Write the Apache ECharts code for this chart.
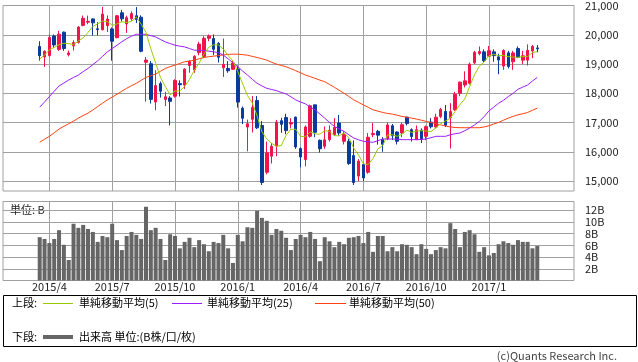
<!DOCTYPE html>
<html><head><meta charset="utf-8">
<script src="https://cdn.jsdelivr.net/npm/echarts@6/dist/echarts.min.js"></script>
<style>html,body{margin:0;padding:0;background:#fff}#c{width:638px;height:362px}</style>
</head><body><div id="c"></div>
<script>
// Weekly candles, first week starting 2015-03-23
const firstWeek = [2015, 2, 23];
const opens  = [19600,19240,19290,19960,19500,20090,19320,19620,19740,20320,20430,20540,20205,20170,20310,20200,19900,20750,20370,20545,20650,20600,19060,19010,17700,18330,17784,17840,17900,18330,18280,18950,18800,19390,19250,19880,19870,19700,18870,18850,18820,18818,17490,16846,17110,17750,16900,15300,15850,16200,17061,17174,16950,17185,16110,15736,16529,17604,16393,16189,16415,16585,16981,16359,16359,15872,15170,15566,15300,16585,16698,16415,16438,16891,16676,16642,17185,16755,16415,16740,16529,17015,16846,17208,17378,17174,17434,18000,18283,18340,19042,19359,19415,19268,19415,19245,18928,19381,19076,19528,19132,19132,19449,19551];
const highs  = [19778,19470,20006,20010,20133,20110,19460,19810,20290,20655,20655,20560,20430,20952,20660,20250,20680,20850,20650,20800,20946,20663,19240,19100,18790,18400,18050,17900,18480,18440,18860,19130,19300,19760,19950,20010,20012,19750,19869,19100,19110,18951,17550,17100,17905,17905,17050,16350,16300,17090,17160,17300,17150,17200,16150,16900,17613,17613,16420,16868,16900,17151,17260,16700,16450,16389,15750,15600,16640,16981,16750,16500,17000,16950,16700,17000,17200,16800,16900,16800,16900,17151,17300,17500,17600,17661,18050,18400,18750,19050,19450,19600,19500,19615,19500,19350,19500,19450,19450,19600,19450,19670,19650,19650];
const lows   = [19115,18900,19250,19560,19450,19450,19260,19460,19700,20290,20360,19980,19980,20150,20093,19115,19880,20450,20060,20480,20400,19400,17714,17650,17420,17850,17560,16901,17850,17890,18150,18700,18700,19300,19200,19780,19300,19050,18560,18700,18800,17509,16947,16017,16660,16780,14865,15230,15600,15850,16650,16600,16800,16100,15471,15500,16480,16500,15975,16100,16350,16550,16550,16250,15550,14864,15000,15000,15250,16500,16245,16000,16400,16400,16250,16500,16900,16350,16400,16300,16400,16800,16800,17150,16850,16111,17400,17900,18200,18300,19000,19300,19050,19250,19076,18650,18800,18850,18800,19200,19000,18950,19200,19400];
const closes = [19286,19435,19908,19652,20020,19531,19379,19732,20264,20563,20461,20407,20174,20706,20539,19779,20650,20544,20585,20724,20519,19436,19136,17792,18264,18070,17880,17725,18438,18291,18825,19083,19265,19680,19879,19960,19504,19230,18986,18769,19033,17698,17147,16958,17518,16819,14952,15967,16188,17014,16938,16724,17002,16164,15821,16848,17572,16666,16106,16412,16736,16834,16642,16601,15599,14952,15682,15106,16497,16627,16569,16254,16919,16545,16360,16925,16965,16519,16754,16449,16860,16856,17184,17446,16905,17374,17967,18381,18426,18996,19401,19427,19114,19454,19287,19137,19467,18918,19378,19235,19283,19469,19604,19521];
// closes of the four weeks before the first candle (needed for the 5-week average)
const priorCloses = [18798, 18971, 19254, 19560];
// 25- and 50-week averages
const ma25 = [17525,17700,17887,18070,18249,18350,18453,18540,18623,18740,18849,18980,19110,19260,19415,19530,19642,19760,19868,19950,20015,20020,20015,19970,19925,19840,19755,19700,19642,19610,19585,19530,19472,19472,19460,19440,19415,19390,19302,19180,19040,18906,18760,18623,18480,18340,18250,18170,18130,18091,18030,17978,17880,17774,17700,17638,17530,17434,17290,17151,17000,16868,16780,16698,16580,16472,16410,16359,16340,16325,16380,16438,16438,16438,16430,16415,16415,16415,16415,16420,16438,16480,16529,16529,16529,16580,16620,16642,16720,16812,16920,17038,17200,17400,17525,17661,17760,17887,18000,18136,18210,18283,18420,18544];
const ma50 = [16325,16430,16529,16650,16778,16870,16959,17050,17151,17240,17321,17430,17547,17660,17774,17870,17966,18070,18170,18260,18340,18440,18544,18600,18657,18750,18849,18910,18962,19020,19076,19100,19132,19180,19223,19250,19268,19290,19310,19330,19336,19336,19320,19302,19260,19223,19180,19132,19060,18996,18950,18906,18840,18770,18700,18623,18570,18510,18450,18396,18300,18204,18100,18000,17890,17774,17690,17604,17520,17434,17390,17344,17310,17287,17250,17208,17180,17151,17117,17080,17038,17000,16959,16920,16880,16850,16830,16823,16823,16823,16823,16823,16850,16891,16950,17004,17080,17151,17210,17264,17300,17344,17420,17491];
// weekly volume, billions
const volumes = [7.4,7.1,6.4,7.1,8.6,6.1,3.5,9.7,9.0,9.5,8.8,8.3,6.6,7.6,7.4,9.7,6.9,5.2,7.6,8.3,7.8,7.1,12.6,8.6,9.0,7.1,3.5,7.9,7.6,5.5,6.6,7.3,5.7,6.9,6.2,5.0,6.6,6.4,7.8,5.5,3.0,7.8,6.7,9.1,9.0,11.9,10.7,10.2,7.8,8.8,8.5,7.3,5.2,7.1,7.8,7.4,8.3,7.1,3.3,7.4,6.7,5.7,6.6,6.2,7.3,7.4,7.6,6.4,8.3,4.9,7.6,7.6,5.0,5.7,5.0,6.2,6.1,5.7,4.5,6.2,5.4,4.5,5.2,5.7,5.5,9.8,8.8,5.7,8.3,8.6,7.9,4.9,5.7,4.3,4.7,6.2,6.7,6.4,6.1,6.9,6.6,6.6,5.5,5.9];
const priceTicks = [15000,16000,17000,18000,19000,20000,21000];
const volumeTicks = [2,4,6,8,10,12];

// week dates & quarter tick positions
const weekDates = [];
const t0 = Date.UTC(firstWeek[0], firstWeek[1], firstWeek[2]);
for (let i = 0; i < closes.length; i++) weekDates.push(new Date(t0 + i * 7 * 864e5));
const quarterIdx = [], quarterLabel = {};
for (let i = 1; i < weekDates.length; i++) {
  const m = weekDates[i].getUTCMonth();
  if (m !== weekDates[i - 1].getUTCMonth() && m % 3 === 0) {
    quarterIdx.push(i);
    quarterLabel[i] = weekDates[i].getUTCFullYear() + '/' + (m + 1);
  }
}
const allCloses = priorCloses.concat(closes);
const ma5 = closes.map((c, i) => {
  let s = 0; for (let k = 0; k < 5; k++) s += allCloses[i + 4 - k]; return s / 5;
});

const candleData = closes.map((c, i) => [i, opens[i], c, lows[i], highs[i]]);
const xy = arr => arr.map((v, i) => [i, v]);

const FONT = '"Noto Sans CJK JP", "Noto Sans", sans-serif';
const GRID = '#a0a0a0';
const RED = '#f0144b', BLUE = '#0a3a9a';

const chart = echarts.init(document.getElementById('c'), null, {renderer: 'canvas'});
const xBase = {
  type: 'value', min: -7.6, max: 110.6,
  axisLine: {show: false},
  axisTick: {show: false, customValues: quarterIdx},
  splitLine: {show: true, lineStyle: {color: GRID, width: 1}}
};
chart.setOption({
  animation: false,
  textStyle: {fontFamily: FONT},
  grid: [
    {left: 3, right: 64, top: 5, height: 186, show: true, borderColor: GRID, borderWidth: 1},
    {left: 3, right: 64, top: 201.5, height: 79, show: true, borderColor: GRID, borderWidth: 1}
  ],
  xAxis: [
    Object.assign({}, xBase, {gridIndex: 0, axisLabel: {show: false, customValues: quarterIdx}}),
    Object.assign({}, xBase, {gridIndex: 1, axisLabel: {show: true, customValues: quarterIdx, margin: 1,
      color: '#222', fontSize: 11, fontFamily: FONT,
      formatter: v => quarterLabel[Math.round(v)] || ''}})
  ],
  yAxis: [
    {type: 'value', gridIndex: 0, position: 'right', min: 14660, max: 21000,
     axisLine: {show: false},
     axisTick: {show: true, length: 4, customValues: priceTicks, lineStyle: {color: GRID}},
     axisLabel: {customValues: priceTicks, margin: 11, color: '#222', fontSize: 11, fontFamily: FONT,
       formatter: v => v.toLocaleString('en-US')},
     splitLine: {show: true, lineStyle: {color: GRID}}},
    {type: 'value', gridIndex: 1, position: 'right', min: 0, max: 13.5,
     axisLine: {show: false},
     axisTick: {show: true, length: 4, customValues: volumeTicks, lineStyle: {color: GRID}},
     axisLabel: {customValues: volumeTicks, margin: 11, color: '#222', fontSize: 11, fontFamily: FONT,
       formatter: v => v + 'B'},
     splitLine: {show: true, lineStyle: {color: GRID}}}
  ],
  series: [
    {type: 'candlestick', xAxisIndex: 0, yAxisIndex: 0, data: candleData,
     encode: {x: 0, y: [1, 2, 3, 4]}, barWidth: 3,
     itemStyle: {color: RED, color0: BLUE, borderColor: RED, borderColor0: BLUE, borderWidth: 1}},
    {type: 'line', xAxisIndex: 0, yAxisIndex: 0, data: xy(ma50), showSymbol: false,
     lineStyle: {color: '#ff4010', width: 1}},
    {type: 'line', xAxisIndex: 0, yAxisIndex: 0, data: xy(ma25), showSymbol: false,
     lineStyle: {color: '#9a1cff', width: 1}},
    {type: 'line', xAxisIndex: 0, yAxisIndex: 0, data: xy(ma5), showSymbol: false,
     lineStyle: {color: '#99cc00', width: 1}},
    {type: 'bar', xAxisIndex: 1, yAxisIndex: 1, data: xy(volumes), barWidth: 4,
     itemStyle: {color: '#666666'}}
  ],
  graphic: [
    {type: 'text', left: 10, top: 204, style: {text: '単位: B', font: '11px ' + FONT, fill: '#222'}},
    {type: 'rect', shape: {x: 3.5, y: 295.5, width: 633, height: 51}, style: {fill: 'none', stroke: '#000', lineWidth: 1}},
    {type: 'text', x: 12, y: 303, style: {text: '上段:', font: '11px ' + FONT, fill: '#000', verticalAlign: 'middle'}},
    {type: 'line', shape: {x1: 43, y1: 303.5, x2: 73, y2: 303.5}, style: {stroke: '#99cc00', lineWidth: 1}},
    {type: 'text', x: 79, y: 303, style: {text: '単純移動平均(5)', font: '11px ' + FONT, fill: '#000', verticalAlign: 'middle'}},
    {type: 'line', shape: {x1: 172, y1: 303.5, x2: 202, y2: 303.5}, style: {stroke: '#9a1cff', lineWidth: 1}},
    {type: 'text', x: 207, y: 303, style: {text: '単純移動平均(25)', font: '11px ' + FONT, fill: '#000', verticalAlign: 'middle'}},
    {type: 'line', shape: {x1: 315, y1: 303.5, x2: 346, y2: 303.5}, style: {stroke: '#ff4010', lineWidth: 1}},
    {type: 'text', x: 349, y: 303, style: {text: '単純移動平均(50)', font: '11px ' + FONT, fill: '#000', verticalAlign: 'middle'}},
    {type: 'text', x: 12, y: 337, style: {text: '下段:', font: '11px ' + FONT, fill: '#000', verticalAlign: 'middle'}},
    {type: 'line', shape: {x1: 43, y1: 337, x2: 73, y2: 337}, style: {stroke: '#666666', lineWidth: 4}},
    {type: 'text', x: 79, y: 337, style: {text: '出来高 単位:(B株/口/枚)', font: '11px ' + FONT, fill: '#000', verticalAlign: 'middle'}},
    {type: 'text', x: 617, y: 356, style: {text: '(c)Quants Research Inc.', font: '11px ' + FONT, fill: '#444', align: 'right', verticalAlign: 'middle'}}
  ]
});
</script></body></html>
